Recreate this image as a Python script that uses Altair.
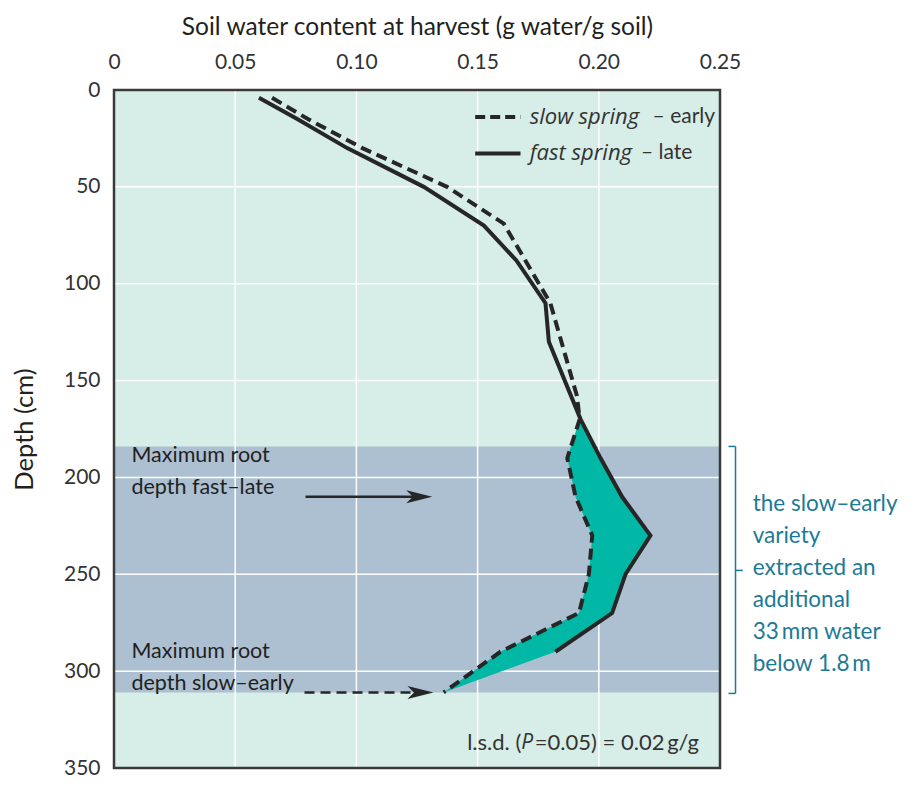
import altair as alt
import pandas as pd

# ---------------- data ----------------
x_ticks = [0, 0.05, 0.10, 0.15, 0.20, 0.25]
y_ticks = [0, 50, 100, 150, 200, 250, 300, 350]
x_grid = [0.05, 0.10, 0.15, 0.20]
y_grid = [50, 100, 150, 200, 250, 300]

# slow spring - early (dashed)
slow_depth = [4, 15, 30, 50, 69, 88, 110, 158, 170, 190, 210, 230, 250, 270, 290, 311]
slow_x = [0.0652, 0.0800, 0.1025, 0.1374, 0.1608, 0.1697, 0.1800, 0.1910, 0.1921,
          0.1870, 0.1904, 0.1973, 0.1959, 0.1918, 0.1594, 0.1360]

# fast spring - late (solid)
fast_depth = [4, 15, 30, 50, 70, 88, 110, 130, 170, 190, 210, 230, 250, 270, 290]
fast_x = [0.0598, 0.0756, 0.0962, 0.1278, 0.1526, 0.1660, 0.1780, 0.1794, 0.1925,
          0.2007, 0.2096, 0.2213, 0.2110, 0.2055, 0.1821]

# extra water extracted (fill between curves), closes at slow-early max root depth
fill_depth = [170, 190, 210, 230, 250, 270, 290, 311]
fill_slow = [0.1921, 0.1870, 0.1904, 0.1973, 0.1959, 0.1918, 0.1594, 0.1360]
fill_fast = [0.1925, 0.2007, 0.2096, 0.2213, 0.2110, 0.2055, 0.1821, 0.1360]

band_depth = [184, 311]          # zone between the two maximum root depths

# ---------------- style ----------------
FONT = "Lato"
IFONT = "Open Sans"
INK = "#262626"
TXT = "#231f20"
NOTE = "#1b7a96"
BG = "#d7ede7"
BAND = "#adc0d2"
TEAL = "#00b8a5"

xscale = alt.Scale(domain=[0, 0.25], nice=False, zero=False)
yscale = alt.Scale(domain=[0, 350], nice=False, zero=False, reverse=True)

xaxis = alt.Axis(orient="top", values=x_ticks,
                 labelExpr="datum.value == 0 ? '0' : format(datum.value, '.2f')",
                 ticks=False, domain=False, grid=False, labelFlush=False,
                 labelFont=FONT, labelFontSize=21, labelColor="#333333",
                 labelPadding=18, title="Soil water content at harvest (g water/g soil)",
                 titleFont=FONT, titleFontSize=24.5, titleFontWeight="normal",
                 titleColor=TXT, titlePadding=12)
yaxis = alt.Axis(orient="left", values=y_ticks, ticks=False, domain=False, grid=False,
                 labelFlush=False, labelFont=FONT, labelFontSize=21, labelColor="#333333",
                 labelPadding=14, title="Depth (cm)", titleFont=FONT, titleFontSize=25.5,
                 titleFontWeight="normal", titleColor=TXT, titlePadding=26)


def X(field="x", **kw):
    return alt.X(f"{field}:Q", scale=xscale, axis=xaxis, **kw)


def Y(field="d"):
    return alt.Y(f"{field}:Q", scale=yscale, axis=yaxis)


# ---------------- layers ----------------
band = alt.Chart(pd.DataFrame({"x": [0.0], "x2": [0.25], "d": [band_depth[0]], "d2": [band_depth[1]]})).mark_rect(
    color=BAND).encode(x=X(), x2="x2:Q", y=Y(), y2="d2:Q")

vgrid = alt.Chart(pd.DataFrame({"x": x_grid})).mark_rule(color="white", strokeWidth=1.5).encode(x=X())
hgrid = alt.Chart(pd.DataFrame({"d": y_grid})).mark_rule(color="white", strokeWidth=1.5).encode(y=Y())

fill_df = pd.DataFrame({"d": fill_depth, "xs": fill_slow, "xf": fill_fast})
area = alt.Chart(fill_df).mark_area(orient="horizontal", fill=TEAL, opacity=1).encode(
    y=Y(), x=X("xs", stack=None), x2="xf:Q")

slow_df = pd.DataFrame({"d": slow_depth, "x": slow_x})
fast_df = pd.DataFrame({"d": fast_depth, "x": fast_x})
slow_line = alt.Chart(slow_df).mark_line(color=INK, strokeWidth=4, strokeDash=[11, 6]).encode(
    x=X(), y=Y(), order=alt.Order("d:Q"))
fast_line = alt.Chart(fast_df).mark_line(color=INK, strokeWidth=4).encode(
    x=X(), y=Y(), order=alt.Order("d:Q"))

# legend samples
leg_df = pd.DataFrame({"x": [0.149, 0.149], "x2": [0.1677, 0.1677], "d": [14.0, 32.8]})
leg_dash = alt.Chart(leg_df.iloc[[0]]).mark_rule(color=INK, strokeWidth=4, strokeDash=[10, 5]).encode(
    x=X(), x2="x2:Q", y=Y())
leg_solid = alt.Chart(leg_df.iloc[[1]]).mark_rule(color=INK, strokeWidth=4).encode(
    x=X(), x2="x2:Q", y=Y())

leg_it = alt.Chart(pd.DataFrame({"x": [0.1715, 0.1715], "d": [13.8, 32.6],
                                 "t": ["slow spring", "fast spring"]})).mark_text(
    align="left", baseline="middle", font=IFONT, fontSize=22, fontStyle="italic", color="#333333").encode(
    x=X(), y=Y(), text="t:N")
leg_rm = alt.Chart(pd.DataFrame({"x": [0.2222, 0.2174], "d": [13.8, 32.6],
                                 "t": ["\u2013 early", "\u2013 late"]})).mark_text(
    align="left", baseline="middle", font=FONT, fontSize=21, color="#333333").encode(
    x=X(), y=Y(), text="t:N")

# arrows
arr_df = pd.DataFrame({"x": [0.0790, 0.0786], "x2": [0.1260, 0.1260], "d": [210, 311]})
arr1 = alt.Chart(arr_df.iloc[[0]]).mark_rule(color=INK, strokeWidth=2.5).encode(
    x=X(), x2="x2:Q", y=Y())
arr2 = alt.Chart(arr_df.iloc[[1]]).mark_rule(color=INK, strokeWidth=2.5, strokeDash=[10, 6]).encode(
    x=X(), x2="x2:Q", y=Y())
head_df = pd.DataFrame({"x": [0.1313, 0.1318], "d": [210, 311]})
heads = alt.Chart(head_df).mark_point(
    shape="M-2,-0.5L0,0L-2,0.5L-1.5,0Z", filled=True, size=676, color=INK, opacity=1,
    strokeWidth=0).encode(x=X(), y=Y())

# left annotations
left_df = pd.DataFrame({"x": [0.0072] * 4, "d": [189.0, 205.5, 290.0, 306.6],
                        "t": ["Maximum root", "depth fast\u2013late", "Maximum root", "depth slow\u2013early"]})
left_txt = alt.Chart(left_df).mark_text(align="left", baseline="middle", font=FONT, fontSize=21.5,
                                        color=TXT).encode(x=X(), y=Y(), text="t:N")

# right note + bracket
note_lines = ["the slow\u2013early", "variety", "extracted an", "additional",
              "33\u2009mm water", "below 1.8\u2009m"]
note_df = pd.DataFrame({"x": [0.2635] * 6, "d": [213.5, 230.0, 246.6, 263.1, 279.7, 296.2],
                        "t": note_lines})
note_txt = alt.Chart(note_df).mark_text(align="left", baseline="middle", font=FONT, fontSize=22.5,
                                        color=NOTE).encode(x=X(), y=Y(), text="t:N")
br_v = alt.Chart(pd.DataFrame({"x": [0.2564], "d": [184.0], "d2": [311.5]})).mark_rule(
    color=NOTE, strokeWidth=1.5).encode(x=X(), y=Y(), y2="d2:Q")
br_h = alt.Chart(pd.DataFrame({"x": [0.2535, 0.2535, 0.2564], "x2": [0.2564, 0.2564, 0.2594],
                               "d": [184.0, 311.5, 248.0]})).mark_rule(
    color=NOTE, strokeWidth=1.5).encode(x=X(), x2="x2:Q", y=Y())

# l.s.d. note
lsd_df = pd.DataFrame({"x": [0.1457, 0.1680, 0.1736], "d": [337.0] * 3,
                       "t": ["l.s.d. (", "P", "=0.05) = 0.02\u2009g/g"]})
lsd1 = alt.Chart(lsd_df.iloc[[0, 2]]).mark_text(align="left", baseline="middle", font=FONT,
                                               fontSize=22, color="#333333").encode(
    x=X(), y=Y(), text="t:N")
lsd2 = alt.Chart(lsd_df.iloc[[1]]).mark_text(align="left", baseline="middle", font=IFONT,
                                            fontSize=21, fontStyle="italic", color="#333333").encode(
    x=X(), y=Y(), text="t:N")

border = alt.Chart(pd.DataFrame({"x": [0.0], "x2": [0.25], "d": [0.0], "d2": [350.0]})).mark_rect(
    filled=False, stroke="#3a3a3a", strokeWidth=2.5).encode(x=X(), x2="x2:Q", y=Y(), y2="d2:Q")

chart = alt.layer(
    band, vgrid, hgrid, area, slow_line, fast_line, leg_dash, leg_solid, leg_it, leg_rm,
    arr1, arr2, heads, left_txt, note_txt, br_v, br_h, lsd1, lsd2, border
).properties(
    width=606, height=678, autosize="none",
    padding={"left": 106, "top": 82, "right": 189, "bottom": 13},
    background="white"
).configure_view(fill=BG, stroke=None)

chart.save("out.html", embed_options={"renderer": "svg", "actions": False})
